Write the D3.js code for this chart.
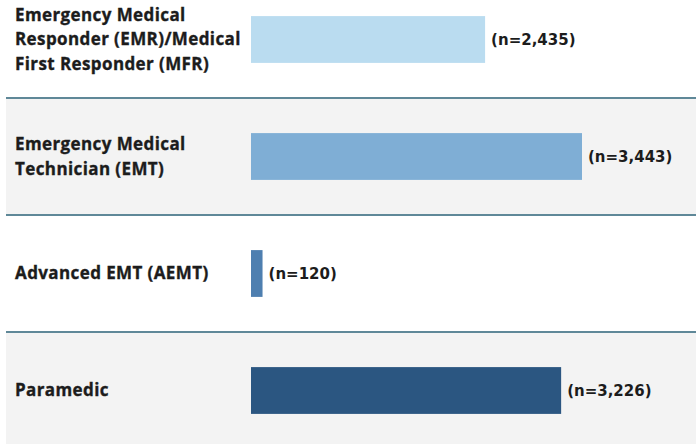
<!DOCTYPE html>
<html><head><meta charset="utf-8">
<script src="https://cdn.jsdelivr.net/npm/d3@7"></script>
<style>body{margin:0;background:#fff}svg{display:block}</style>
</head><body>
<script>
const categories = [
  ["Emergency Medical", "Responder (EMR)/Medical", "First Responder (MFR)"],
  ["Emergency Medical", "Technician (EMT)"],
  ["Advanced EMT (AEMT)"],
  ["Paramedic"]
];
const values = [2435, 3443, 120, 3226];
const valueLabels = ["(n=2,435)", "(n=3,443)", "(n=120)", "(n=3,226)"];
const colors = ["#badcf0", "#7faed5", "#4e7fb0", "#2b5681"];

const W = 696, H = 444;
const svg = d3.select("body").append("svg").attr("width", W).attr("height", H);
const idx = d3.range(values.length);
const y = d3.scaleBand().domain(idx).range([-20, 448]).padding(0);
const x = d3.scaleLinear().domain([0, d3.max(values)]).range([251, 582]);
const barH = y.step() * 0.4;

// alternating backgrounds
svg.selectAll("rect.bg").data(idx.filter(i => i % 2 === 1)).enter().append("rect")
  .attr("x", 6).attr("y", i => y(i) + 1).attr("width", W - 6).attr("height", y.step())
  .attr("fill", "#f3f3f3");
// separators
svg.selectAll("line.sep").data(idx.slice(1)).enter().append("line")
  .attr("x1", 6).attr("x2", W).attr("y1", i => y(i) + 1).attr("y2", i => y(i) + 1)
  .attr("stroke", "#5f8898").attr("stroke-width", 2);

// bars
svg.selectAll("rect.bar").data(idx).enter().append("rect")
  .attr("x", x(0)).attr("y", i => y(i) + y.bandwidth() / 2 - barH / 2 + 1)
  .attr("width", i => x(values[i]) - x(0)).attr("height", barH)
  .attr("fill", i => colors[i]);

// value labels
svg.selectAll("text.val").data(idx).enter().append("text")
  .attr("x", i => x(values[i]) + 6).attr("y", i => y(i) + y.bandwidth() / 2 + 1)
  .attr("dy", "0.35em")
  .attr("font-family", "DejaVu Sans").attr("font-weight", "bold").attr("font-size", 15)
  .attr("fill", "#1c1c1c").text(i => valueLabels[i]);

// category labels
const lh = 24.5;
const g = svg.selectAll("text.cat").data(idx).enter().append("text")
  .attr("font-family", "Open Sans").attr("font-weight", 700).attr("font-size", 17)
  .attr("letter-spacing", 0.4)
  .attr("fill", "#1c1c1c").attr("stroke", "#1c1c1c").attr("stroke-width", 0.35);
g.each(function(i) {
  const lines = categories[i];
  const cy = y(i) + y.bandwidth() / 2 + 1;
  const t = d3.select(this);
  lines.forEach((s, k) => {
    t.append("tspan").attr("x", 15)
      .attr("y", cy + (k - (lines.length - 1) / 2) * lh)
      .attr("dy", "0.35em").text(s);
  });
});
</script>
</body></html>
